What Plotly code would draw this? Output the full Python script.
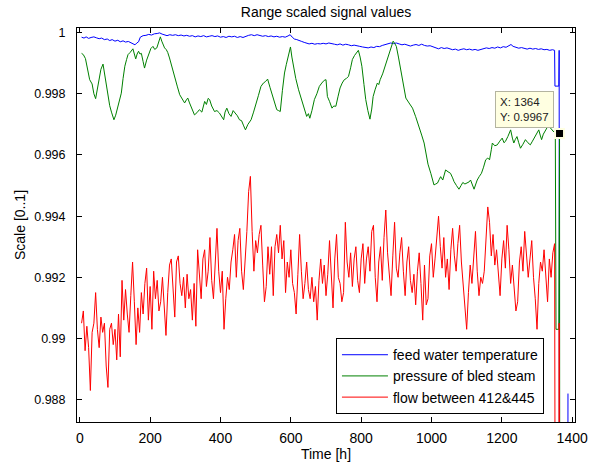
import plotly.graph_objects as go

# ---------------- data ----------------
blue_t = [5, 12, 18, 25, 32, 40, 47, 55, 62, 70, 78, 85, 92, 100, 108, 115, 123, 130, 138, 145,
          152, 157, 162, 167, 172, 180, 188, 196, 204, 212, 220, 227, 234, 241, 248, 256, 264, 272,
          280, 288, 296, 304, 312, 320, 328, 336, 344, 352, 360, 368, 376, 384, 392, 400, 408, 416,
          424, 432, 440, 448, 456, 464, 472, 480, 488, 496, 504, 512, 520, 528, 536, 544, 552, 560,
          568, 576, 584, 592, 598, 604, 610, 617, 624, 631, 638, 645, 652, 660, 668, 676, 684, 692,
          700, 708, 716, 724, 732, 740, 748, 756, 764, 772, 780, 788, 796, 804, 812, 820, 828, 836,
          844, 852, 860, 868, 876, 884, 892, 900, 908, 916, 924, 932, 940, 948, 956, 964, 972, 980,
          988, 996, 1004, 1012, 1020, 1028, 1036, 1044, 1052, 1060, 1068, 1076, 1084, 1092, 1100,
          1108, 1116, 1124, 1132, 1140, 1148, 1156, 1164, 1172, 1180, 1188, 1196, 1204, 1212, 1220,
          1226, 1232, 1240, 1248, 1256, 1264, 1272, 1280, 1288, 1296, 1304, 1312, 1320, 1328, 1336,
          1344, 1350, 1351, 1362, 1363, 1364, 1387, 1388]
blue_v = [0.99985, 0.99982, 0.99986, 0.99981, 0.99984, 0.99986, 0.99983, 0.99980, 0.99982, 0.99977,
          0.99979, 0.99974, 0.99977, 0.99972, 0.99975, 0.99970, 0.99973, 0.99969, 0.99971, 0.99967,
          0.99965, 0.99960, 0.99966, 0.99970, 0.99985, 0.99990, 0.99991, 0.99994, 0.99992, 0.99996,
          0.99997, 0.99999, 0.99995, 0.99993, 0.99990, 0.99993, 0.99991, 0.99993, 0.99990, 0.99992,
          0.99989, 0.99991, 0.99988, 0.99990, 0.99986, 0.99989, 0.99987, 0.99990, 0.99986, 0.99988,
          0.99990, 0.99987, 0.99989, 0.99985, 0.99987, 0.99984, 0.99988, 0.99986, 0.99988, 0.99984,
          0.99987, 0.99984, 0.99988, 0.99991, 0.99993, 0.99990, 0.99993, 0.99991, 0.99988, 0.99990,
          0.99987, 0.99989, 0.99986, 0.99988, 0.99985, 0.99987, 0.99985, 0.99989, 0.99993, 0.99985,
          0.99979, 0.99977, 0.99975, 0.99971, 0.99968, 0.99966, 0.99963, 0.99965, 0.99962, 0.99964,
          0.99963, 0.99965, 0.99963, 0.99966, 0.99963, 0.99962, 0.99960, 0.99963, 0.99959, 0.99962,
          0.99960, 0.99957, 0.99959, 0.99956, 0.99955, 0.99953, 0.99951, 0.99950, 0.99953, 0.99951,
          0.99955, 0.99954, 0.99958, 0.99961, 0.99965, 0.99966, 0.99964, 0.99966, 0.99963, 0.99960,
          0.99962, 0.99958, 0.99956, 0.99959, 0.99961, 0.99958, 0.99962, 0.99958, 0.99956, 0.99957,
          0.99954, 0.99950, 0.99947, 0.99951, 0.99948, 0.99950, 0.99947, 0.99944, 0.99946, 0.99942,
          0.99945, 0.99947, 0.99944, 0.99946, 0.99943, 0.99945, 0.99942, 0.99944, 0.99947, 0.99950,
          0.99948, 0.99951, 0.99949, 0.99953, 0.99950, 0.99954, 0.99952, 0.99957, 0.99961, 0.99955,
          0.99951, 0.99949, 0.99951, 0.99948, 0.99946, 0.99949, 0.99946, 0.99948, 0.99945, 0.99947,
          0.99944, 0.99945, 0.99942, 0.99944, 0.99942, 0.99825, 0.99825, 0.99942, 0.975, 0.975, 0.9882]

green_t = [5, 10, 16, 22, 28, 35, 40, 45, 50, 55, 60, 66, 71, 76, 80, 85, 90, 97, 102, 106, 112, 118,
           123, 128, 133, 137, 143, 151, 155, 159, 163, 167, 171, 175, 180, 184, 190, 196, 202, 208,
           213, 219, 224, 229, 233, 236, 241, 246, 250, 255, 262, 270, 277, 284, 291, 298, 303, 307,
           312, 318, 326, 333, 340, 347, 351, 355, 360, 365, 369, 375, 383, 390, 397, 403, 409, 413,
           418, 424, 430, 436, 443, 448, 454, 460, 466, 471, 478, 487, 494, 501, 508, 515, 522, 528,
           534, 541, 548, 554, 560, 565, 570, 576, 582, 587, 591, 595, 599, 603, 607, 614, 622, 628,
           634, 640, 645, 650, 654, 660, 667, 674, 681, 688, 695, 700, 704, 710, 717, 722, 728, 734,
           740, 746, 752, 758, 764, 770, 775, 781, 787, 792, 797, 802, 808, 813, 819, 825, 830, 834,
           840, 846, 850, 854, 861, 868, 873, 879, 885, 891, 895, 900, 906, 913, 920, 927, 936, 946,
           955, 965, 972, 979, 985, 990, 998, 1003, 1007, 1012, 1017, 1022, 1026, 1032, 1036, 1040,
           1047, 1054, 1060, 1064, 1071, 1078, 1084, 1089, 1095, 1102, 1107, 1111, 1116, 1121, 1126,
           1130, 1136, 1142, 1148, 1154, 1160, 1165, 1170, 1173, 1180, 1187, 1194, 1201, 1206, 1210,
           1217, 1225, 1230, 1234, 1238, 1243, 1248, 1253, 1260, 1267, 1274, 1281, 1287, 1294, 1300,
           1305, 1309, 1313, 1318, 1324, 1329, 1333, 1338, 1343, 1348, 1352, 1354, 1362, 1363, 1364,
           1365, 1395]
green_v = [0.99932, 0.99928, 0.99915, 0.99880, 0.99846, 0.99832, 0.99800, 0.99784, 0.99820, 0.99846,
           0.99880, 0.99897, 0.99860, 0.99824, 0.99790, 0.99761, 0.99740, 0.99715, 0.99730, 0.99748,
           0.99775, 0.99802, 0.99850, 0.99890, 0.99912, 0.99928, 0.99935, 0.99947, 0.99930, 0.99914,
           0.99930, 0.99939, 0.99930, 0.99932, 0.99905, 0.99884, 0.99910, 0.99933, 0.99948, 0.99955,
           0.99945, 0.99950, 0.99970, 0.99986, 0.99972, 0.99961, 0.99950, 0.99944, 0.99935, 0.99917,
           0.99885, 0.99857, 0.99825, 0.99797, 0.99785, 0.99770, 0.99780, 0.99786, 0.99770, 0.99755,
           0.99731, 0.99738, 0.99748, 0.99740, 0.99762, 0.99775, 0.99765, 0.99785, 0.99781, 0.99760,
           0.99742, 0.99745, 0.99737, 0.99725, 0.99715, 0.99740, 0.99753, 0.99735, 0.99726, 0.99745,
           0.99737, 0.99728, 0.99715, 0.99712, 0.99695, 0.99682, 0.99700, 0.99715, 0.99740, 0.99764,
           0.99795, 0.99824, 0.99835, 0.99840, 0.99848, 0.99820, 0.99791, 0.99765, 0.99748, 0.99745,
           0.99742, 0.99810, 0.99868, 0.99895, 0.99912, 0.99935, 0.99953, 0.99920, 0.99890, 0.99850,
           0.99813, 0.99790, 0.99770, 0.99750, 0.99726, 0.99735, 0.99720, 0.99745, 0.99781, 0.99800,
           0.99824, 0.99835, 0.99844, 0.99846, 0.99791, 0.99775, 0.99753, 0.99760, 0.99759, 0.99790,
           0.99819, 0.99835, 0.99846, 0.99850, 0.99857, 0.99885, 0.99912, 0.99925, 0.99935, 0.99942,
           0.99920, 0.99890, 0.99830, 0.99781, 0.99745, 0.99717, 0.99750, 0.99791, 0.99815, 0.99835,
           0.99830, 0.99846, 0.99865, 0.99890, 0.99910, 0.99933, 0.99955, 0.99972, 0.99965, 0.99955,
           0.99920, 0.99879, 0.99830, 0.99786, 0.99770, 0.99753, 0.99725, 0.99693, 0.99665, 0.99639,
           0.99600, 0.99570, 0.99540, 0.99515, 0.99502, 0.99505, 0.99508, 0.99520, 0.99529, 0.99518,
           0.99535, 0.99551, 0.99545, 0.99540, 0.99525, 0.99513, 0.99500, 0.99488, 0.99500, 0.99510,
           0.99505, 0.99508, 0.99512, 0.99518, 0.99500, 0.99488, 0.99505, 0.99518, 0.99530, 0.99540,
           0.99560, 0.99584, 0.99590, 0.99584, 0.99617, 0.99639, 0.99630, 0.99633, 0.99645, 0.99655,
           0.99640, 0.99644, 0.99660, 0.99682, 0.99655, 0.99639, 0.99650, 0.99660, 0.99640, 0.99622,
           0.99635, 0.99650, 0.99640, 0.99633, 0.99645, 0.99660, 0.99670, 0.99682, 0.99665, 0.99650,
           0.99668, 0.99682, 0.99690, 0.99695, 0.99688, 0.99682, 0.99675, 0.99680, 0.99030, 0.99030,
           0.99670, 0.99670, 0.975, 0.975]

red_t = list(range(5, 1351, 5)) + [1353, 1362, 1363, 1364, 1395]
red_v = [0.9905, 0.9909, 0.9896, 0.9904, 0.9897, 0.9883, 0.9902, 0.9905, 0.9915, 0.9903,
         0.9897, 0.9907, 0.9902, 0.9905, 0.9891, 0.9884, 0.9903, 0.9905, 0.9898, 0.9903,
         0.9893, 0.9908, 0.9894, 0.9919, 0.9906, 0.9916, 0.9908, 0.9902, 0.9914, 0.9925,
         0.9912, 0.9898, 0.9910, 0.9902, 0.9915, 0.9908, 0.9918, 0.9923, 0.9906, 0.9917,
         0.9903, 0.9922, 0.9913, 0.9919, 0.9909, 0.9912, 0.9920, 0.9910, 0.9901, 0.9915,
         0.9924, 0.9926, 0.9914, 0.9907, 0.9925, 0.9927, 0.9918, 0.9914, 0.9920, 0.9910,
         0.9921, 0.9913, 0.9916, 0.9906, 0.9918, 0.9904, 0.9929, 0.9921, 0.9913, 0.9926,
         0.9929, 0.9917, 0.9922, 0.9933, 0.9919, 0.9913, 0.9923, 0.9936, 0.9922, 0.9915,
         0.9922, 0.9903, 0.9913, 0.9920, 0.9916, 0.9925, 0.9929, 0.9934, 0.9920, 0.9932,
         0.9936, 0.9922, 0.9916, 0.9925, 0.9935, 0.9948, 0.9953, 0.9935, 0.9922, 0.9932,
         0.9928, 0.9934, 0.9937, 0.9924, 0.9912, 0.9917, 0.9930, 0.9921, 0.9930, 0.9914,
         0.9930, 0.9934, 0.9928, 0.9937, 0.9926, 0.9932, 0.9915, 0.9925, 0.9920, 0.9929,
         0.9918, 0.9915, 0.9908, 0.9921, 0.9934, 0.9922, 0.9913, 0.9918, 0.9925, 0.9916,
         0.9913, 0.9920, 0.9912, 0.9917, 0.9906, 0.9919, 0.9926, 0.9918, 0.9924, 0.9914,
         0.9921, 0.9932, 0.9918, 0.9910, 0.9926, 0.9934, 0.9920, 0.9918, 0.9912, 0.9915,
         0.9938, 0.9925, 0.9920, 0.9928, 0.9917, 0.9926, 0.9930, 0.9919, 0.9915, 0.9926,
         0.9931, 0.9918, 0.9926, 0.9930, 0.9922, 0.9935, 0.9937, 0.9920, 0.9912, 0.9925,
         0.9930, 0.9919, 0.9933, 0.9942, 0.9928, 0.9920, 0.9914, 0.9927, 0.9938, 0.9923,
         0.9920, 0.9928, 0.9933, 0.9922, 0.9914, 0.9925, 0.9930, 0.9919, 0.9915, 0.9921,
         0.9911, 0.9922, 0.9928, 0.9918, 0.9906, 0.9924, 0.9911, 0.9913, 0.9927, 0.9931,
         0.9920, 0.9926, 0.9934, 0.9940, 0.9930, 0.9923, 0.9933, 0.9920, 0.9926, 0.9916,
         0.9929, 0.9936, 0.9927, 0.9922, 0.9931, 0.9937, 0.9925, 0.9918, 0.9912, 0.9903,
         0.9915, 0.9924, 0.9918, 0.9928, 0.9935, 0.9922, 0.9914, 0.9920, 0.9918, 0.9922,
         0.9932, 0.9943, 0.9938, 0.9927, 0.9934, 0.9924, 0.9929, 0.9920, 0.9914, 0.9926,
         0.9932, 0.9923, 0.9937, 0.9929, 0.9918, 0.9924, 0.9917, 0.9909, 0.9912, 0.9925,
         0.9930, 0.9922, 0.9935, 0.9928, 0.9920, 0.9926, 0.9932, 0.9920, 0.9913, 0.9903,
         0.9918, 0.9925, 0.9922, 0.9929, 0.9919, 0.9912, 0.9926, 0.9920, 0.9928, 0.9931,
         0.975, 0.975, 0.9905, 0.975, 0.975]

series_names = ["feed water temperature", "pressure of bled steam", "flow between 412&445"]
series_colors = ["#0000FF", "#008000", "#FF0000"]

x_ticks = [0, 200, 400, 600, 800, 1000, 1200, 1400]
y_ticks = [0.988, 0.99, 0.992, 0.994, 0.996, 0.998, 1.0]
y_tick_labels = ["0.988", "0.99", "0.992", "0.994", "0.996", "0.998", "1"]

tip_time = 1364

# ---------------- figure ----------------
FONT = "Liberation Sans, Arial, Helvetica, sans-serif"
fig = go.Figure()
for t, v, name, col in zip([blue_t, green_t, red_t], [blue_v, green_v, red_v], series_names, series_colors):
    fig.add_trace(go.Scatter(x=t, y=v, mode="lines", name=name,
                             line=dict(color=col, width=1)))

tip_idx = green_t.index(tip_time)
tip_x, tip_y = green_t[tip_idx], green_v[tip_idx]
fig.add_trace(go.Scatter(x=[tip_x], y=[tip_y], mode="markers", showlegend=False,
                         marker=dict(symbol="square", size=9, color="black",
                                     line=dict(color="#FFFFE1", width=2))))
fig.add_annotation(x=tip_x, y=tip_y, xref="x", yref="y", showarrow=False,
                   text=f"X: {tip_x}<br>Y: {tip_y:.4f}", align="left",
                   xanchor="right", yanchor="bottom", xshift=-6, yshift=6,
                   bgcolor="#FFFFE1", bordercolor="#B4B4A0", borderwidth=1, borderpad=4,
                   font=dict(family=FONT, size=11.5, color="#202020"))

axis_common = dict(showline=True, linecolor="black", linewidth=1, mirror="ticks",
                   ticks="inside", ticklen=5, tickcolor="black", showgrid=False,
                   zeroline=False, automargin=False)

fig.update_layout(
    template="none",
    width=593, height=462,
    margin=dict(l=77, r=18, t=28, b=40),
    paper_bgcolor="white", plot_bgcolor="white",
    title=dict(text="Range scaled signal values", x=0.5, xref="paper",
               y=1 - 12 / 462, yref="container", xanchor="center", yanchor="middle",
               font=dict(family=FONT, size=14, color="black")),
    xaxis=dict(range=[-8, 1408], tickvals=x_ticks, ticklabelstandoff=3,
               tickfont=dict(family=FONT, size=14, color="black"),
               title=dict(text="Time [h]", font=dict(family=FONT, size=14, color="black"), standoff=8),
               **axis_common),
    yaxis=dict(range=[0.98727, 1.00015], tickvals=y_ticks, ticktext=y_tick_labels,
               ticklabelstandoff=8,
               tickfont=dict(family=FONT, size=12.5, color="black"),
               title=dict(text="Scale [0..1]", font=dict(family=FONT, size=14, color="black"), standoff=5),
               **axis_common),
    legend=dict(x=0.52, y=0.02, xanchor="left", yanchor="bottom",
                bgcolor="white", bordercolor="black", borderwidth=1, itemwidth=46,
                font=dict(family=FONT, size=14, color="black")),
    showlegend=True,
)

fig.write_html("out.html")
